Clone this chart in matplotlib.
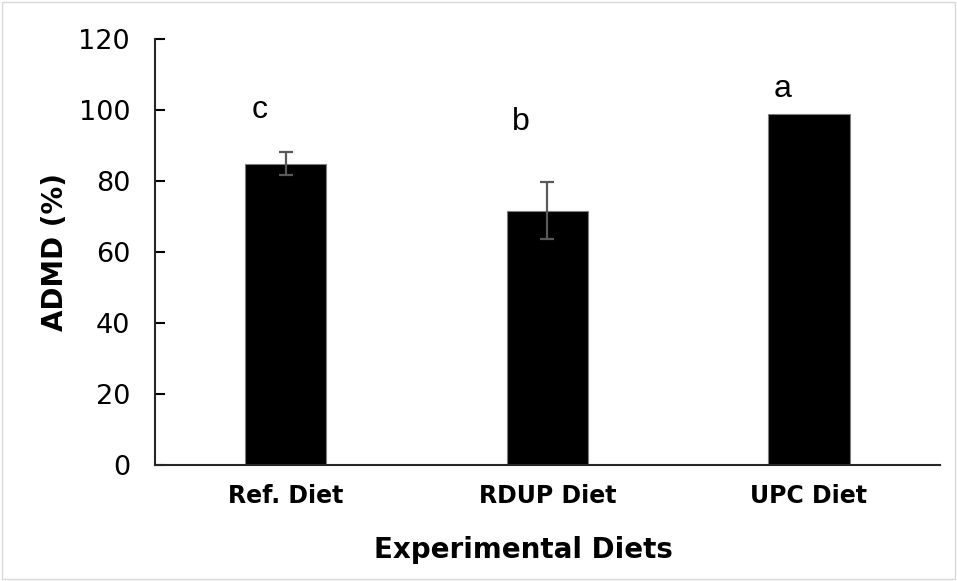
import matplotlib
matplotlib.use("Agg")
import matplotlib.pyplot as plt
import numpy as np

# ── Data ──────────────────────────────────────────────────────────────────────
diets = ["Ref. Diet", "RDUP Diet", "UPC Diet"]
admd = [84.8, 71.6, 98.9]
admd_err = [3.2, 8.0, 0.0]
letters = ["c", "b", "a"]
letter_y = [100, 96.6, 106]

# ── Figure ────────────────────────────────────────────────────────────────────
fig = plt.figure(figsize=(9.57, 5.81), dpi=100)
ax = fig.add_axes([0.162, 0.2, 0.82, 0.733])

x = np.arange(len(diets))
ax.bar(x, admd, width=0.31, color="black", edgecolor="#7f7f7f", linewidth=0.8, zorder=2)
for xi, v, e in zip(x, admd, admd_err):
    if e > 0:
        ax.errorbar(xi, v, yerr=e, fmt="none", ecolor="#595959", elinewidth=1.6,
                    capsize=5, capthick=1.6, zorder=3)

for xi, lab, ly in zip(x, letters, letter_y):
    ax.text(xi - 0.1, ly, lab, ha="center", va="center", fontsize=23,
            family="Liberation Sans", color="black")

ax.set_xlim(-0.5, 2.5)
ax.set_ylim(0, 120)
ax.set_yticks(np.arange(0, 121, 20))
ax.set_xticks(x)
ax.set_xticklabels(diets, fontsize=17, fontweight="bold")
ax.tick_params(axis="x", length=0, pad=14)
ax.tick_params(axis="y", direction="in", length=7, width=1.5, labelsize=19.5, pad=18)

for s in ["top", "right"]:
    ax.spines[s].set_visible(False)
for s in ["left", "bottom"]:
    ax.spines[s].set_linewidth(1.5)
    ax.spines[s].set_color("#262626")

ax.set_xlabel("Experimental Diets", fontsize=20, fontweight="bold", labelpad=16)
ax.xaxis.set_label_coords(0.469, -0.2, transform=ax.transAxes)
ax.xaxis.label.set_va("center")
ax.set_ylabel("ADMD (%)", fontsize=20, fontweight="bold", labelpad=7)

# thin frame around the whole picture
fig.patches.append(plt.Rectangle((0.002, 0.003), 0.996, 0.994, transform=fig.transFigure,
                                 fill=False, edgecolor="#d9d9d9", linewidth=1))

fig.savefig("out.png", dpi=100)
